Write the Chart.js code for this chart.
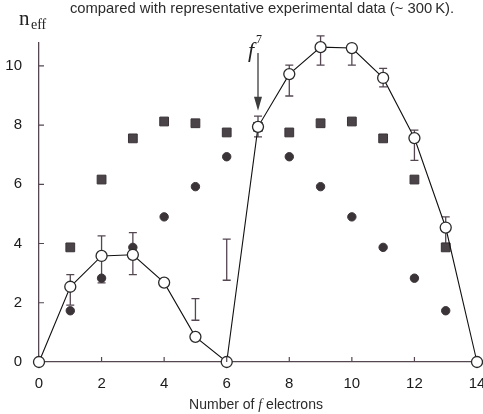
<!DOCTYPE html>
<html>
<head>
<meta charset="utf-8">
<title>n_eff vs number of f electrons</title>
<script src="https://cdn.jsdelivr.net/npm/chart.js@4.4.1/dist/chart.umd.min.js"></script>
<style>
  body { margin: 0; background: #fff; }
  canvas { display: block; }
</style>
</head>
<body>
<canvas id="neffChart" width="483" height="414"></canvas>
<script>
// number of f electrons
const electrons = [0, 1, 2, 3, 4, 5, 6, 7, 8, 9, 10, 11, 12, 13, 14];

// open circles joined by a line
const jValues = [0, 2.54, 3.58, 3.62, 2.68, 0.85, 0, 7.94, 9.72, 10.63, 10.6, 9.59, 7.56, 4.54, 0];

// filled squares
const lsValues = [null, 3.87, 6.16, 7.55, 8.12, 8.06, 7.75, 7.94, 7.75, 8.06, 8.12, 7.55, 6.16, 3.87, null];

// filled circles
const spinValues = [null, 1.73, 2.83, 3.87, 4.9, 5.92, 6.93, 7.94, 6.93, 5.92, 4.9, 3.87, 2.83, 1.73, null];

// experimental ranges (~300 K)
const expLow  = [null, 1.92, 2.67, 2.95, null, 1.41, 2.76, 7.6, 8.98, 10.02, 10.02, 9.29, 6.81, 4.0, null];
const expHigh = [null, 2.95, 4.26, 4.37, null, 2.14, 4.15, 8.3, 10.02, 11.01, 10.73, 9.91, 7.83, 4.9, null];

const xTicks = [0, 2, 4, 6, 8, 10, 12, 14];
const yTicks = [0, 2, 4, 6, 8, 10];

const axisColor = '#544752';
const markColor = '#3a3337';

function toPoints(values) {
  return electrons.map((n, i) => ({ x: n, y: values[i] }));
}

// error bars, drawn behind the markers
const errorBars = {
  id: 'errorBars',
  beforeDatasetsDraw(chart) {
    const { ctx, scales: { x, y } } = chart;
    ctx.save();
    ctx.strokeStyle = axisColor;
    ctx.lineWidth = 1.3;
    electrons.forEach((n, i) => {
      if (expLow[i] == null) return;
      const px = x.getPixelForValue(n);
      const top = y.getPixelForValue(expHigh[i]);
      const bot = y.getPixelForValue(expLow[i]);
      ctx.beginPath();
      ctx.moveTo(px, top); ctx.lineTo(px, bot);
      ctx.moveTo(px - 4, top); ctx.lineTo(px + 4, top);
      ctx.moveTo(px - 4, bot); ctx.lineTo(px + 4, bot);
      ctx.stroke();
    });
    ctx.restore();
  }
};

// inward ticks, axis labels, caption and the f7 arrow
const decorations = {
  id: 'decorations',
  afterDraw(chart) {
    const { ctx, chartArea, scales: { x, y } } = chart;
    ctx.save();

    ctx.strokeStyle = axisColor;
    ctx.lineWidth = 1.2;
    ctx.beginPath();
    xTicks.forEach(v => {
      if (v === 0 || v === 14) return;
      const px = x.getPixelForValue(v);
      ctx.moveTo(px, chartArea.bottom);
      ctx.lineTo(px, chartArea.bottom - 5);
    });
    yTicks.forEach(v => {
      if (v === 0) return;
      const py = y.getPixelForValue(v);
      ctx.moveTo(chartArea.left, py);
      ctx.lineTo(chartArea.left + 5, py);
    });
    ctx.stroke();

    // caption (cut off at the top in the source)
    ctx.fillStyle = '#2b2b2b';
    ctx.textAlign = 'center';
    ctx.textBaseline = 'alphabetic';
    ctx.font = '14.8px "Liberation Sans", Arial, sans-serif';
    ctx.fillText('compared with representative experimental data (~ 300\u2009K).', 262, 13);

    // x title with italic f
    ctx.textAlign = 'left';
    const partA = 'Number of ';
    const partF = 'f';
    const partB = ' electrons';
    const fontN = '14px "Liberation Sans", Arial, sans-serif';
    const fontI = 'italic 14px "Liberation Serif", "Times New Roman", serif';
    ctx.font = fontN; const wA = ctx.measureText(partA).width; const wB = ctx.measureText(partB).width;
    ctx.font = fontI; const wF = ctx.measureText(partF).width;
    let sx = 256 - (wA + wF + wB) / 2;
    ctx.font = fontN; ctx.fillText(partA, sx, 409); sx += wA;
    ctx.font = fontI; ctx.fillText(partF, sx, 409); sx += wF;
    ctx.font = fontN; ctx.fillText(partB, sx, 409);

    // y title n_eff
    ctx.fillStyle = '#222';
    ctx.font = '21px "Liberation Serif", "Times New Roman", serif';
    ctx.fillText('n', 19, 25);
    ctx.font = '14px "Liberation Serif", "Times New Roman", serif';
    ctx.fillText('eff', 31, 29);

    // f7 label and arrow pointing at n = 7
    const ax = x.getPixelForValue(7);
    const tip = y.getPixelForValue(jValues[7]) - 16;
    ctx.font = 'italic 22px "Liberation Serif", "Times New Roman", serif';
    ctx.fillText('f', ax - 10, 57);
    ctx.font = '12px "Liberation Serif", "Times New Roman", serif';
    ctx.fillText('7', ax - 2, 43);
    ctx.strokeStyle = '#3d3d3d';
    ctx.lineWidth = 1.3;
    ctx.beginPath();
    ctx.moveTo(ax, 53);
    ctx.lineTo(ax, tip - 10);
    ctx.stroke();
    ctx.fillStyle = '#3d3d3d';
    ctx.beginPath();
    ctx.moveTo(ax - 4, tip - 14);
    ctx.lineTo(ax + 4, tip - 14);
    ctx.lineTo(ax, tip);
    ctx.closePath();
    ctx.fill();

    ctx.restore();
  }
};

new Chart(document.getElementById('neffChart'), {
  type: 'scatter',
  data: {
    datasets: [
      {
        label: 'J',
        data: toPoints(jValues),
        showLine: true,
        borderColor: '#111',
        borderWidth: 1.1,
        pointStyle: 'circle',
        pointRadius: 5.5,
        pointBackgroundColor: '#fff',
        pointBorderColor: '#2a2a2a',
        pointBorderWidth: 1.3,
        clip: false
      },
      {
        label: 'L+S',
        data: toPoints(lsValues),
        pointStyle: 'rect',
        pointRadius: 6.2,
        pointBackgroundColor: '#4a4347',
        pointBorderColor: '#3a3337',
        pointBorderWidth: 1,
        clip: false
      },
      {
        label: 'S',
        data: toPoints(spinValues),
        pointStyle: 'circle',
        pointRadius: 4.2,
        pointBackgroundColor: markColor,
        pointBorderColor: markColor,
        pointBorderWidth: 1,
        clip: false
      }
    ]
  },
  options: {
    responsive: false,
    animation: false,
    layout: { autoPadding: false, padding: { top: 43, right: 6, left: 0, bottom: 0 } },
    plugins: {
      legend: { display: false },
      tooltip: { enabled: false }
    },
    scales: {
      x: {
        type: 'linear',
        min: 0,
        max: 14,
        afterBuildTicks: s => { s.ticks = xTicks.map(v => ({ value: v })); },
        afterFit: s => { s.height = 52; s.paddingLeft = 0; s.paddingRight = 0; },
        grid: { display: false },
        border: { display: true, color: axisColor, width: 1.3 },
        ticks: {
          color: '#1a1a1a',
          padding: 5,
          maxRotation: 0,
          font: { family: '"Liberation Sans", Arial, sans-serif', size: 15 }
        }
      },
      y: {
        type: 'linear',
        min: 0,
        max: 10.77,
        afterBuildTicks: s => { s.ticks = yTicks.map(v => ({ value: v })); },
        afterFit: s => { s.width = 39; s.paddingTop = 0; s.paddingBottom = 0; },
        grid: { display: false },
        border: { display: true, color: axisColor, width: 1.3 },
        ticks: {
          color: '#1a1a1a',
          padding: 9,
          font: { family: '"Liberation Sans", Arial, sans-serif', size: 15 }
        }
      }
    }
  },
  plugins: [errorBars, decorations]
});
</script>
</body>
</html>
